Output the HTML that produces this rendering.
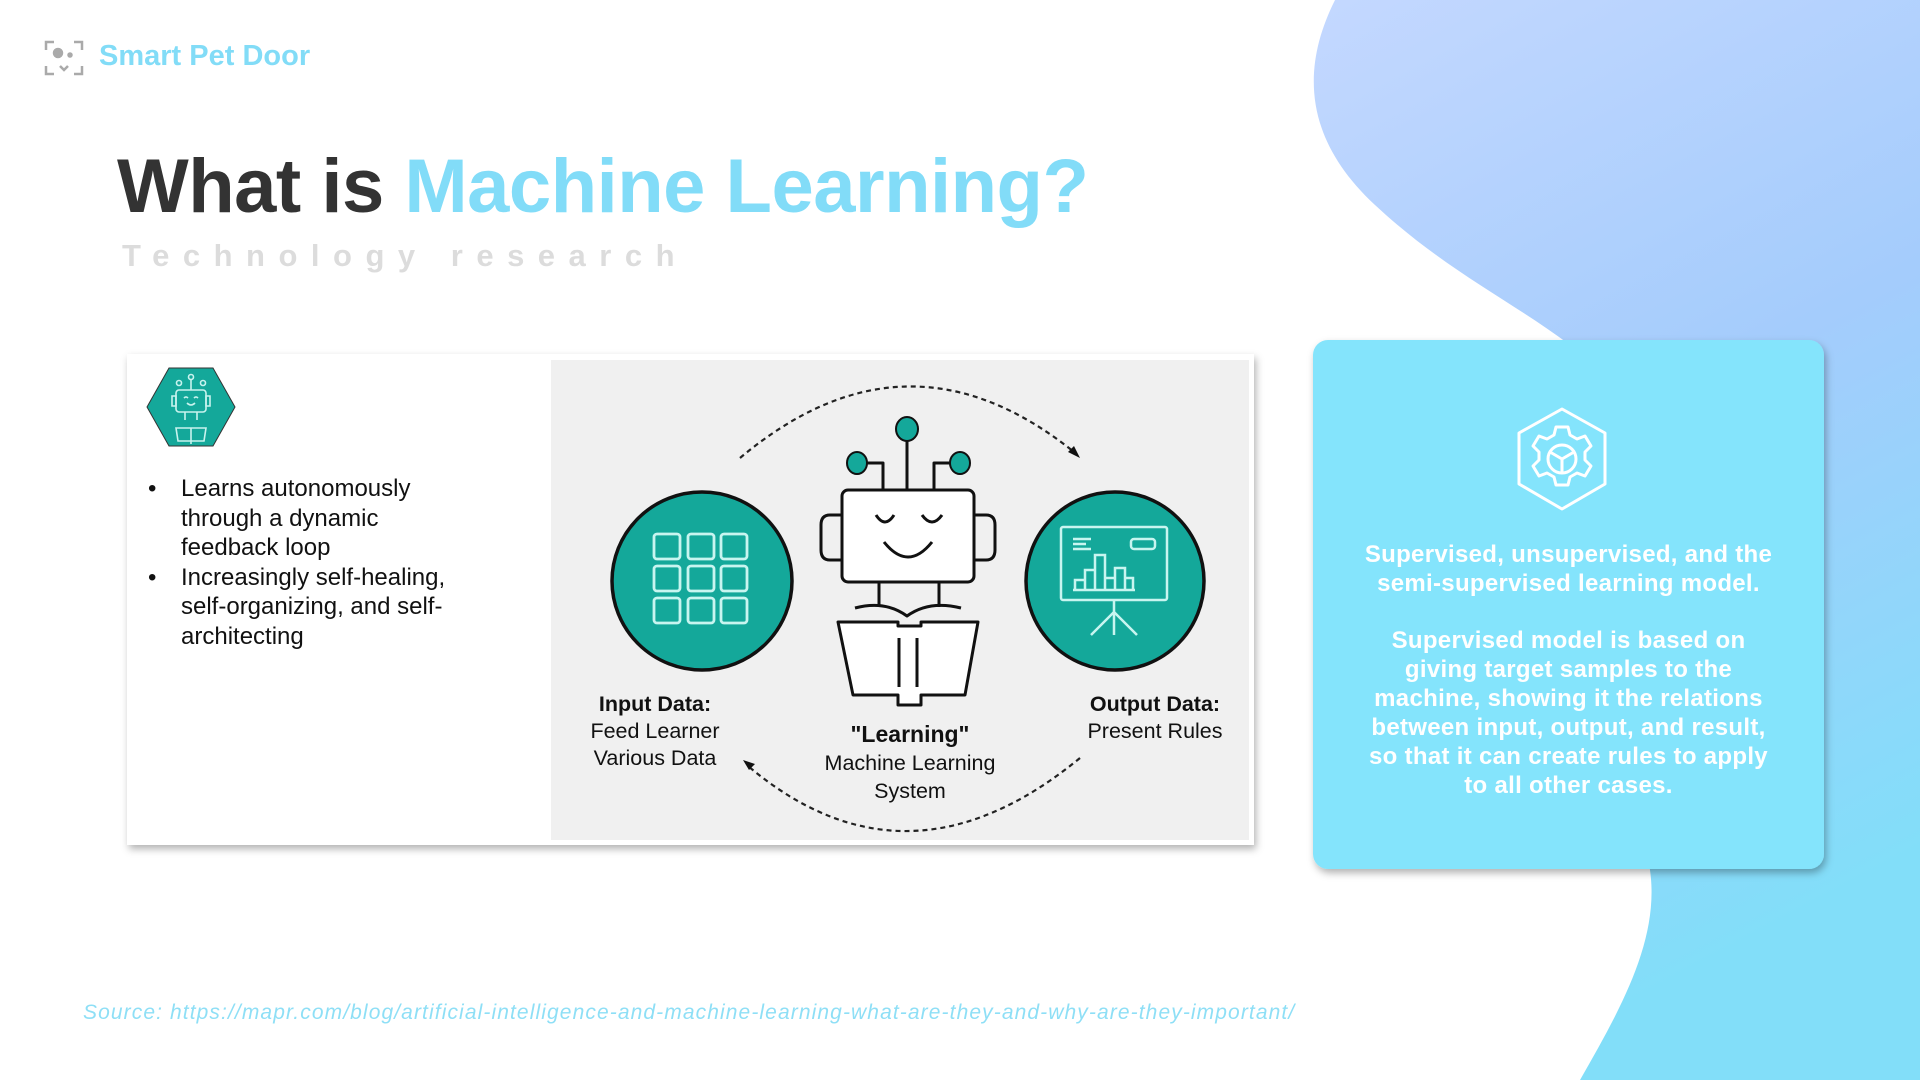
<!DOCTYPE html>
<html><head><meta charset="utf-8"><style>
html,body{margin:0;padding:0;}
body{width:1920px;height:1080px;position:relative;overflow:hidden;background:#fff;font-family:"Liberation Sans",Arial,sans-serif;}
.abs{position:absolute;}
</style></head><body>
<svg class="abs" style="left:0;top:0" width="1920" height="1080">
<defs>
<linearGradient id="bg" x1="0" y1="0" x2="0.3" y2="1">
<stop offset="0" stop-color="#c4d8ff"/><stop offset="0.5" stop-color="#a4ccfc"/><stop offset="1" stop-color="#82def9"/>
</linearGradient>
<filter id="sh" x="-10%" y="-10%" width="120%" height="125%"><feDropShadow dx="2" dy="4" stdDeviation="4" flood-opacity="0.3"/></filter>
</defs>
<path d="M1335,0 C1300,70 1305,140 1375,205 C1445,270 1510,300 1570,345 L1650,870 C1660,940 1620,1010 1580,1080 L1920,1080 L1920,0 Z" fill="url(#bg)"/>
<g stroke="#aaa" stroke-width="2.5" fill="none">
<path d="M46,50 v-8 h8 M74,42 h8 v8 M46,66 v8 h8 M82,66 v8 h-8"/>
<circle cx="58" cy="53" r="4" fill="#aaa"/><circle cx="70" cy="55" r="1.5" fill="#aaa"/>
<path d="M60,66 l4,4 l4,-4"/>
</g>
<rect x="127" y="354" width="1127" height="491" fill="#fff" filter="url(#sh)"/>
<rect x="551" y="360" width="698" height="480" fill="#f0f0f0"/>
<polygon points="147,407 169,368 213,368 235,407 213,446 169,446" fill="#14a89a" stroke="#333" stroke-width="1"/>
<g stroke="#c8f3ee" stroke-width="1.6" fill="none">
<rect x="176" y="390" width="30" height="22" rx="3"/>
<circle cx="191" cy="377" r="2.5"/><line x1="191" y1="380" x2="191" y2="390"/>
<circle cx="179" cy="383" r="2.5"/><circle cx="203" cy="383" r="2.5"/>
<path d="M172,396 h4 v10 h-4 z M206,396 h4 v10 h-4 z"/>
<path d="M184,398 q2,-2 4,0 M194,398 q2,-2 4,0"/>
<path d="M187,403 q4,4 8,0"/>
<path d="M185,412 v8 M197,412 v8"/>
<path d="M176,428 l2,13 h26 l2,-13 z M191,428 v16"/>
</g>
<ellipse cx="702" cy="581" rx="90" ry="89" fill="#14a89a" stroke="#111" stroke-width="3.5"/>
<g stroke="#c8f5f0" stroke-width="2.8" fill="none">
<rect x="654" y="534" width="26" height="25" rx="3"/><rect x="688" y="534" width="26" height="25" rx="3"/><rect x="721" y="534" width="26" height="25" rx="3"/>
<rect x="654" y="566" width="26" height="25" rx="3"/><rect x="688" y="566" width="26" height="25" rx="3"/><rect x="721" y="566" width="26" height="25" rx="3"/>
<rect x="654" y="598" width="26" height="25" rx="3"/><rect x="688" y="598" width="26" height="25" rx="3"/><rect x="721" y="598" width="26" height="25" rx="3"/>
</g>
<ellipse cx="1115" cy="581" rx="89" ry="89" fill="#14a89a" stroke="#111" stroke-width="3.5"/>
<g stroke="#c8f5f0" stroke-width="2.5" fill="none">
<rect x="1061" y="527" width="106" height="73" rx="2"/>
<line x1="1073" y1="539" x2="1091" y2="539"/><line x1="1073" y1="544" x2="1086" y2="544"/><line x1="1073" y1="549" x2="1091" y2="549"/>
<rect x="1131" y="539" width="24" height="10" rx="3"/>
<path d="M1075,590 v-10 h10 v10 M1085,590 v-20 h10 v20 M1095,590 v-35 h10 v35 M1105,590 v-12 h10 v12 M1115,590 v-22 h10 v22 M1125,590 v-12 h8 v12 M1073,590 h62"/>
<path d="M1114,600 v35 M1114,612 l-23,23 M1114,612 l23,23"/>
</g>
<g stroke="#111" stroke-width="3" fill="none" stroke-linejoin="round">
<line x1="907" y1="440" x2="907" y2="490"/>
<path d="M867,463 h16 v27 M950,463 h-16 v27"/>
<rect x="842" y="490" width="132" height="92" rx="6" fill="#fff"/>
<path d="M842,515 h-12 q-9,0 -9,10 v25 q0,10 9,10 h12"/>
<path d="M974,515 h12 q9,0 9,10 v25 q0,10 -9,10 h-12"/>
<path d="M876,515 q9,14 18,0 M922,515 q10,14 20,0"/>
<path d="M884,542 q24,30 48,0"/>
<line x1="879" y1="582" x2="879" y2="607"/><line x1="939" y1="582" x2="939" y2="607"/>
<path d="M855,608 q30,-8 52,8 q22,-16 54,-8"/>
<path d="M838,622 h60 v4 h23 v-4 h57 l-13,73 h-44 v10 h-23 v-10 h-45 z" fill="#fff"/>
<line x1="899" y1="638" x2="899" y2="687"/><line x1="917" y1="638" x2="917" y2="687"/>
</g>
<g fill="#14a89a" stroke="#111" stroke-width="2">
<ellipse cx="907" cy="429" rx="11" ry="12"/>
<ellipse cx="857" cy="463" rx="10" ry="11"/>
<ellipse cx="960" cy="463" rx="10" ry="11"/>
</g>
<g stroke="#222" stroke-width="2.2" fill="none" stroke-dasharray="5,4">
<path d="M740,458 Q907,318 1074,452"/>
<path d="M1080,758 Q907,900 748,766"/>
</g>
<polygon points="1080,458 1068,452 1074,446" fill="#111"/>
<polygon points="743,760 755,764 749,770" fill="#111"/>
<rect x="1313" y="340" width="511" height="529" rx="15" fill="#84e4fc" filter="url(#sh)"/>
<g stroke="#fff" stroke-width="3" fill="none" stroke-linejoin="round">
<polygon points="1562,409 1605,433 1605,484 1562,509 1519,484 1519,433"/>
<path d="M1556,427 h12 l2,8 l7,4 l8,-3 l6,10 l-6,6 v8 l6,6 l-6,10 l-8,-3 l-7,4 l-2,8 h-12 l-2,-8 l-7,-4 l-8,3 l-6,-10 l6,-6 v-8 l-6,-6 l6,-10 l8,3 l7,-4 z"/>
<circle cx="1562" cy="459" r="14"/>
<path d="M1562,459 v14 M1562,459 l-12,-7 M1562,459 l12,-7"/>
</g>
</svg>

<div class="abs" style="left:99px;top:40px;font-size:29px;font-weight:bold;color:#82dcf7;">Smart Pet Door</div>
<div class="abs" style="left:117px;top:143px;font-size:76px;font-weight:bold;letter-spacing:-0.5px;color:#333;white-space:nowrap;">What is <span style="color:#82dcf8">Machine Learning?</span></div>
<div class="abs" style="left:122px;top:238px;font-size:31px;font-weight:bold;letter-spacing:13.5px;color:#dcdcdc;white-space:nowrap;">Technology research</div>

<div class="abs" style="left:148px;top:474px;font-size:24px;line-height:29.5px;color:#111;">
<div style="position:relative;padding-left:33px;"><span style="position:absolute;left:0">•</span>Learns autonomously<br>through a dynamic<br>feedback loop</div>
<div style="position:relative;padding-left:33px;"><span style="position:absolute;left:0">•</span>Increasingly self-healing,<br>self-organizing, and self-<br>architecting</div>
</div>

<div class="abs" style="left:545px;top:691px;width:220px;text-align:center;font-size:21.5px;line-height:27px;color:#111;"><b>Input Data:</b><br>Feed Learner<br>Various Data</div>
<div class="abs" style="left:1045px;top:691px;width:220px;text-align:center;font-size:21.5px;line-height:27px;color:#111;"><b>Output Data:</b><br>Present Rules</div>
<div class="abs" style="left:790px;top:720px;width:240px;text-align:center;font-size:21.5px;line-height:28px;color:#111;"><b style="font-size:23px">"Learning"</b><br>Machine Learning<br>System</div>

<div class="abs" style="left:1313px;top:540px;width:511px;text-align:center;font-size:24px;line-height:29px;font-weight:bold;letter-spacing:0.3px;color:#fff;">Supervised, unsupervised, and the<br>semi-supervised learning model.<br><div style="height:28px"></div>Supervised model is based on<br>giving target samples to the<br>machine, showing it the relations<br>between input, output, and result,<br>so that it can create rules to apply<br>to all other cases.</div>

<div class="abs" style="left:83px;top:1001px;font-size:21px;font-style:italic;color:#8edff6;white-space:nowrap;letter-spacing:1.1px;">Source: https://mapr.com/blog/artificial-intelligence-and-machine-learning-what-are-they-and-why-are-they-important/</div>
</body></html>
